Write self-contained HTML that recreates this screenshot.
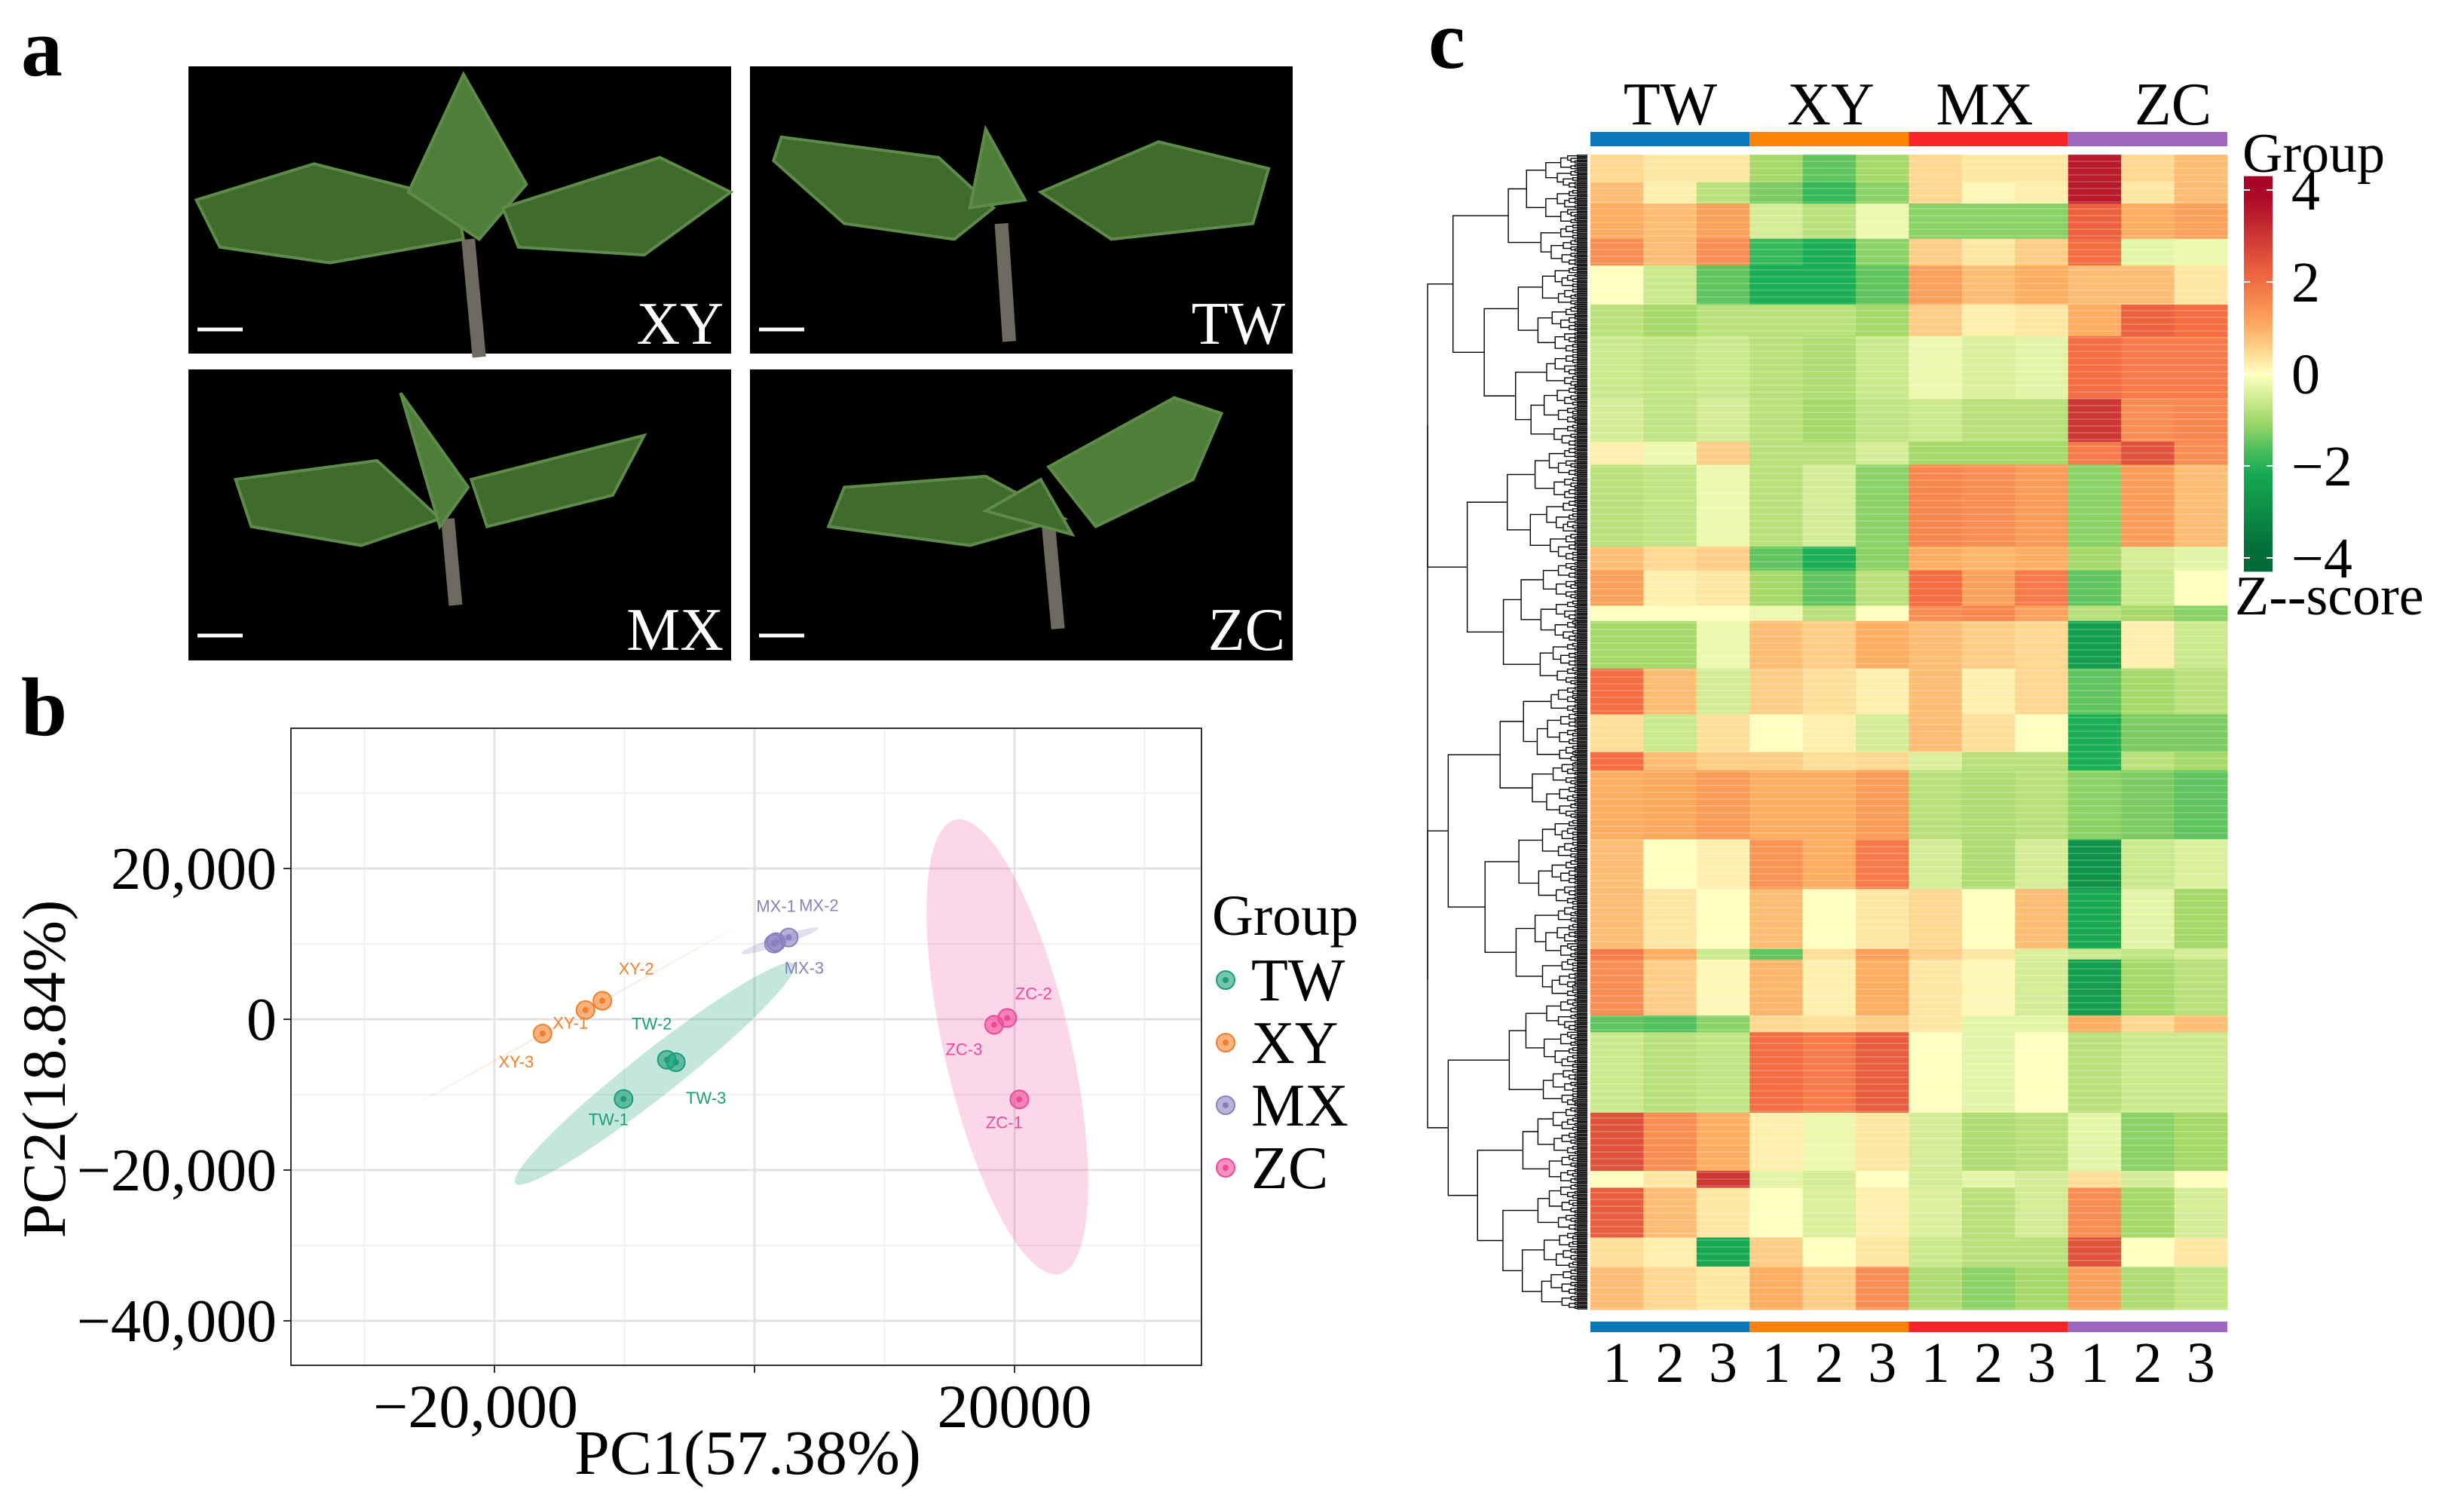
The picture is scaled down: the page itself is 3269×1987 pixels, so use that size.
<!DOCTYPE html>
<html><head><meta charset="utf-8"><style>
html,body{margin:0;padding:0;background:#fff;}
svg{display:block;}
.serif{font-family:"Liberation Serif",serif;}
.sans{font-family:"Liberation Sans",sans-serif;}
</style></head><body>
<svg id="fig" width="3269" height="1987" viewBox="0 0 3269 1987" xmlns="http://www.w3.org/2000/svg">
<rect width="3269" height="1987" fill="#fff"/>
<text class="serif" x="28" y="100" font-size="110" font-weight="bold">a</text>
<text class="serif" x="28" y="975" font-size="110" font-weight="bold">b</text>
<text class="serif" x="1895" y="90" font-size="110" font-weight="bold">c</text>
<g id="photos"></g>
<g id="pca"></g>
<g id="heat"></g>
</svg>
<script>
const NS="http://www.w3.org/2000/svg";
function mk(tag,attrs,parent,txt){const e=document.createElementNS(NS,tag);for(const k in attrs)e.setAttribute(k,attrs[k]);if(txt!==undefined)e.textContent=txt;parent.appendChild(e);return e;}

// ---------- Panel a: photos ----------
const photoLabels=["XY","TW","MX","ZC"];
const photoX=[250,995,250,995], photoY=[88,88,490,490];
const leafShapes=[
 [[[5,85],[80,62],[170,85],[175,110],[90,125],[20,115]],[[140,80],[175,5],[215,75],[185,110]],[[200,90],[300,58],[345,80],[290,120],[210,115]]],
 [[[20,45],[120,58],[155,90],[130,110],[60,100],[15,60]],[[140,90],[150,40],[175,85]],[[185,80],[260,48],[330,65],[320,100],[230,110]]],
 [[[30,70],[120,58],[160,95],[110,112],[40,100]],[[135,15],[178,75],[160,100]],[[180,70],[290,42],[270,80],[190,100]]],
 [[[60,75],[150,68],[200,95],[140,112],[50,100]],[[190,62],[270,18],[300,28],[282,70],[220,100]],[[150,90],[185,70],[205,105]]]
];
const stems=[[[178,110],[185,185]],[[160,100],[165,175]],[[165,95],[170,150]],[[190,100],[196,165]]];
const ph=document.getElementById('photos');
for(let i=0;i<4;i++){
  const g=mk('g',{transform:`translate(${photoX[i]},${photoY[i]})`},ph);
  
  
  mk('rect',{x:0,y:0,width:720,height:(i<2?381:386),fill:'#000'},g);
  const s=2.085;
  const st=stems[i];
  mk('line',{x1:st[0][0]*s,y1:st[0][1]*s,x2:st[1][0]*s,y2:st[1][1]*s,stroke:'#6f6a60','stroke-width':18},g);
  leafShapes[i].forEach((p,j)=>{
    mk('polygon',{points:p.map(q=>(q[0]*s)+','+(q[1]*s)).join(' '),fill:j%2?'#4f7d3a':'#3f6b2f',stroke:'#5e8c48','stroke-width':4},g);
  });
  mk('line',{x1:12,y1:(i<2?349:353),x2:72,y2:(i<2?349:353),stroke:'#fff','stroke-width':5},g);
  const t=mk('text',{x:710,y:(i<2?368:372),'text-anchor':'end',fill:'#fff','font-size':80,class:'serif'},g,photoLabels[i]);
  
  
}

// ---------- Panel b: PCA ----------
const groups=["TW","XY","MX","ZC"];
const groupColors=["#1b9e77","#f27f2a","#8a80c0","#f0479a"];
const sampleNames=["TW-1","TW-2","TW-3","XY-1","XY-2","XY-3","MX-1","MX-2","MX-3","ZC-1","ZC-2","ZC-3"];
const sampleGroup=[0,0,0,1,1,1,2,2,2,3,3,3];
const pc1=[-10070,-6740,-6050,-13000,-11700,-16300,1660,2630,1500,20370,19440,18430];
const pc2=[-10570,-5370,-5700,1230,2460,-1900,10240,10850,10050,-10630,170,-730];
const xTicks=[-20000,20000];
const xTickLabels=["\u221220,000","20000"];
const yTicks=[20000,0,-20000,-40000];
const yTickLabels=["20,000","0","\u221220,000","\u221240,000"];
const px=v=>1001+v/20000*345;
const py=v=>1352-v/20000*200;
const pca=document.getElementById('pca');
const L=386,R=1594,T=966,B=1811;
[-30000,-10000,10000,30000].forEach(v=>mk('line',{x1:px(v),x2:px(v),y1:T,y2:B,stroke:'#f0f0f0','stroke-width':2},pca));
[30000,10000,-10000,-30000].forEach(v=>mk('line',{x1:L,x2:R,y1:py(v),y2:py(v),stroke:'#f0f0f0','stroke-width':2},pca));
[-20000,0,20000].forEach(v=>mk('line',{x1:px(v),x2:px(v),y1:T,y2:B,stroke:'#e3e3e3','stroke-width':3},pca));
yTicks.forEach(v=>mk('line',{x1:L,x2:R,y1:py(v),y2:py(v),stroke:'#e3e3e3','stroke-width':3},pca));
const ellA=[[-18390,-21760],[-25590,-10850],[-1016,8730],[15430,26460]];
const ellB=[[3050,7330],[-1570,12080],[4900,12080],[23460,-33790]];
const ellW=[30,1.5,6,84];
const ellFill=["rgba(27,158,119,0.26)","rgba(242,127,42,0.12)","rgba(138,128,192,0.25)","rgba(240,71,154,0.22)"];
for(let g=0;g<4;g++){
  const x1=px(ellA[g][0]),y1=py(ellA[g][1]),x2=px(ellB[g][0]),y2=py(ellB[g][1]);
  const cx=(x1+x2)/2,cy=(y1+y2)/2,len=Math.hypot(x2-x1,y2-y1)/2,ang=Math.atan2(y2-y1,x2-x1)*180/Math.PI;
  const e=mk('ellipse',{cx,cy,rx:len,ry:ellW[g],transform:`rotate(${ang} ${cx} ${cy})`,fill:ellFill[g]},pca);
  
  
}
const labDx=[-20,-20,40,-20,45,-35,0,40,40,-20,35,-40];
const labDy=[35,-40,55,25,-35,45,-40,-35,40,38,-25,40];
for(let i=0;i<12;i++){
  const c=groupColors[sampleGroup[i]],x=px(pc1[i]),y=py(pc2[i]);
  const p=mk('circle',{cx:x,cy:y,r:12,fill:c,'fill-opacity':0.6,stroke:c,'stroke-width':2},pca);
  
  
  mk('circle',{cx:x,cy:y,r:4,fill:c},pca);
  const t=mk('text',{x:x+labDx[i],y:y+labDy[i],'text-anchor':'middle',fill:c,'font-size':22,class:'sans'},pca,sampleNames[i]);
  
  
}
mk('rect',{x:L,y:T,width:R-L,height:B-T,fill:'none',stroke:'#333','stroke-width':2},pca);
yTicks.forEach((v,i)=>{
  mk('line',{x1:L-10,x2:L,y1:py(v),y2:py(v),stroke:'#333','stroke-width':2},pca);
  const t=mk('text',{x:367,y:py(v)+27,'text-anchor':'end','font-size':80,class:'serif'},pca,yTickLabels[i]);
  
  
});
[-20000,0,20000].forEach(v=>mk('line',{x1:px(v),x2:px(v),y1:B,y2:B+10,stroke:'#333','stroke-width':2},pca));
xTicks.forEach((v,i)=>{
  const t=mk('text',{x:px(v)-(i==0?25:0),y:1893,'text-anchor':'middle','font-size':82,class:'serif'},pca,xTickLabels[i]);
  
  
});
mk('text',{x:992,y:1955,'text-anchor':'middle','font-size':84,class:'serif',},pca,'PC1(57.38%)');
mk('text',{x:0,y:0,transform:'translate(86,1418) rotate(-90)','text-anchor':'middle','font-size':82,class:'serif',},pca,'PC2(18.84%)');
mk('text',{x:1608,y:1240,'font-size':76,class:'serif',},pca,'Group');
groups.forEach((gname,g)=>{
  const y=1300+g*83;
  const c=groupColors[g];
  mk('circle',{cx:1626,cy:y,r:12,fill:c,'fill-opacity':0.6,stroke:c,'stroke-width':2},pca);
  mk('circle',{cx:1626,cy:y,r:4,fill:c},pca);
  const t=mk('text',{x:1660,y:y+27,'font-size':80,class:'serif'},pca,gname);
  
  
});

// ---------- Panel c: heatmap ----------
const colLabels=["1","2","3","1","2","3","1","2","3","1","2","3"];
const groupBarColors=["#0a77bb","#fd8206","#f8242a","#a066c0"];
const blockGenes=[36,28,46,35,51,41,82,56,30,107,31,46,20,62,60,49,24,90,65,78,14,73,22,105,76,22,65,38,56];
const blockValues=[
[0.5,0.3,0.3,-1,-1.5,-1,0.5,0.3,0.3,3.5,0.5,0.8],
[0.8,0.2,-0.8,-1.3,-1.8,-1.2,0.5,0.1,0.2,3.5,0.3,0.8],
[1,0.8,1.2,-0.5,-0.8,-0.2,-1.2,-1.2,-1.2,2.2,1,1.2],
[1.5,0.8,1.5,-1.8,-2,-1.2,0.6,0.3,0.6,2,-0.3,-0.2],
[0,-0.6,-1.5,-2,-2,-1.5,1.2,0.8,1,0.8,0.8,0.3],
[-0.8,-1,-0.8,-0.8,-0.8,-1,0.6,0.2,0.3,1,2.2,2],
[-0.6,-0.7,-0.6,-0.8,-0.9,-0.6,-0.2,-0.4,-0.3,2,1.8,1.8],
[-0.5,-0.7,-0.5,-0.8,-1,-0.7,-0.6,-0.8,-0.8,3,1.5,1.6],
[0.2,-0.2,0.6,-0.8,-0.8,-0.5,-1,-1,-1,1.8,2.5,1.5],
[-0.8,-0.7,-0.2,-0.8,-0.5,-1.2,1.6,1.5,1.3,-1.2,1.3,0.8],
[0.8,0.5,0.6,-1.5,-2,-1.2,1,0.9,1,-1,-0.5,-0.3],
[1.2,0.2,0.3,-1,-1.5,-0.8,2,1.2,1.8,-1.5,-0.6,0],
[0,0,0,-0.2,-0.8,0,1.5,1.6,1.2,-0.8,-1,-1.2],
[-1,-1,-0.2,0.8,0.6,1,0.8,0.6,0.5,-2.5,0.2,-0.6],
[2,0.8,-0.5,0.6,0.4,0.2,0.8,0.2,0.5,-1.5,-1,-0.8],
[0.4,-0.6,0.4,0,0.2,-0.5,0.8,0.4,0,-2,-1.3,-1.3],
[2,0.8,0.6,0.6,0.4,0.5,-0.4,-0.8,-0.8,-2,-0.8,-1],
[1,1.1,1.3,1,1,1.3,-0.8,-0.9,-0.8,-1.2,-1.3,-1.5],
[0.8,0,0.2,1.4,1,1.8,-0.5,-0.9,-0.5,-2.8,-0.6,-0.4],
[0.8,0.3,0,0.8,0,0.3,0.5,0,0.8,-2.2,-0.3,-1],
[1.8,1,-0.6,-1.5,0.4,1.2,0.6,0.3,-0.4,-0.6,-0.7,-0.5],
[1.5,0.6,0.1,0.9,0.2,1,0.3,0.1,-0.5,-2.5,-1,-0.8],
[-1.5,-1.6,-1.2,0.5,0.4,0.6,0.3,-0.3,-0.3,1,0.5,0.8],
[-0.6,-0.8,-0.7,2,1.8,2.3,0,-0.3,0,-0.8,-0.6,-0.6],
[2.5,1.5,1,0.2,-0.2,0.3,-0.5,-0.9,-0.8,-0.3,-1.2,-1],
[0,0.3,3,-0.3,-0.5,0,-0.5,-0.3,-0.5,0.4,-0.5,0],
[2.3,0.8,0.3,0,-0.4,0.2,-0.4,-0.8,-0.5,1.5,-1,-0.5],
[0.4,0.2,-2.2,0.6,0,0.3,-0.6,-0.8,-0.8,2.5,0,0.3],
[0.8,0.5,0.3,1,0.6,1.5,-0.9,-1.2,-1,1.2,-0.9,-0.7]
];
const cbTicks=[4,2,0,-2,-4];
const cbTickLabels=["4","2","0","\u22122","\u22124"];
const stops=[[-4,[0,104,55]],[-2,[26,175,84]],[-1,[166,217,106]],[0,[255,255,191]],[1,[253,174,97]],[2,[244,109,67]],[4,[165,0,38]]];
function zcol(v){
  v=Math.max(-4,Math.min(4,v));
  for(let i=0;i<stops.length-1;i++){
    const a=stops[i],b=stops[i+1];
    if(v<=b[0]){const t=(v-a[0])/(b[0]-a[0]);const c=a[1].map((x,k)=>Math.round(x+(b[1][k]-x)*t));return `rgb(${c[0]},${c[1]},${c[2]})`;}
  }
  return 'rgb(165,0,38)';
}
const heat=document.getElementById('heat');
const HX=2110,HW=845,HT=205,HB=1737,ncol=12,cw=HW/ncol;
const totalGenes=blockGenes.reduce((a,b)=>a+b,0);
const gy=g=>HT+(HB-HT)*g/totalGenes;
let acc=0;
blockGenes.forEach((n,b)=>{
  const y0=gy(acc),y1=gy(acc+n);
  for(let c=0;c<ncol;c++){
    const r=mk('rect',{x:HX+c*cw,y:y0,width:cw+0.5,height:y1-y0+0.5,fill:zcol(blockValues[b][c])},heat);
    
    
  }
  acc+=n;
});
for(let y=HT;y<HB;y+=9){mk('line',{x1:HX,x2:HX+HW,y1:y,y2:y,stroke:'rgba(255,255,255,0.18)','stroke-width':2},heat);}
groupBarColors.forEach((c,g)=>{
  mk('rect',{x:HX+g*3*cw,y:175,width:3*cw,height:19,fill:c,},heat);
  mk('rect',{x:HX+g*3*cw,y:1753,width:3*cw,height:14,fill:c,},heat);
});
const topCenters=[2216,2429,2633,2883];
groups.forEach((gname,g)=>{
  const t=mk('text',{x:topCenters[g],y:165,'text-anchor':'middle','font-size':80,class:'serif'},heat,gname);
  
  
});
colLabels.forEach((l,c)=>{
  const t=mk('text',{x:HX+(c+0.5)*cw,y:1833,'text-anchor':'middle','font-size':76,class:'serif'},heat,l);
  
  
});
const nLeaves=900;
const dg=mk('g',{stroke:'#000','stroke-width':1.4,fill:'none'},heat);


const ratios=[0.46,0.55,0.38,0.62,0.5,0.43,0.57,0.35,0.65,0.48];
let ri=0;
function tree(lo,hi){
  const leafY=i=>HT+(HB-HT)*(i+0.5)/nLeaves;
  if(hi-lo<=1){return {y:leafY(lo),x:2106};}
  let m=lo+Math.max(1,Math.min(hi-lo-1,Math.round((hi-lo)*ratios[(ri++)%ratios.length])));
  const a=tree(lo,m),b=tree(m,hi);
  const size=hi-lo;
  const x=2106-Math.min(212,Math.pow(size,0.55)*9);
  mk('path',{d:`M${a.x},${a.y}H${x}V${b.y}H${b.x}`},dg);
  return {x,y:(a.y+b.y)/2};
}
const root=tree(0,nLeaves);
const cbg=mk('g',{},heat);


const defs=mk('defs',{},cbg);
const lg=mk('linearGradient',{id:'cbgrad',x1:0,y1:0,x2:0,y2:1},defs);
for(let k=0;k<=16;k++){const v=4.3-8.6*k/16;mk('stop',{offset:(k/16),'stop-color':zcol(v)},lg);}
const cbY=v=>496-v*61;
mk('rect',{x:2977,y:cbY(4.3),width:38,height:cbY(-4.3)-cbY(4.3),fill:'url(#cbgrad)'},cbg);
cbTicks.forEach((v,i)=>{
  mk('line',{x1:2977,x2:2985,y1:cbY(v),y2:cbY(v),stroke:'#fff','stroke-width':2},cbg);
  mk('line',{x1:3007,x2:3015,y1:cbY(v),y2:cbY(v),stroke:'#fff','stroke-width':2},cbg);
  const t=mk('text',{x:3040,y:cbY(v)+26,'font-size':76,class:'serif'},cbg,cbTickLabels[i]);
  
  
});
mk('text',{x:2975,y:228,'font-size':74,class:'serif',},heat,'Group');
mk('text',{x:2965,y:815,'font-size':74,class:'serif',},heat,'Z--score');
</script>
</body></html>
